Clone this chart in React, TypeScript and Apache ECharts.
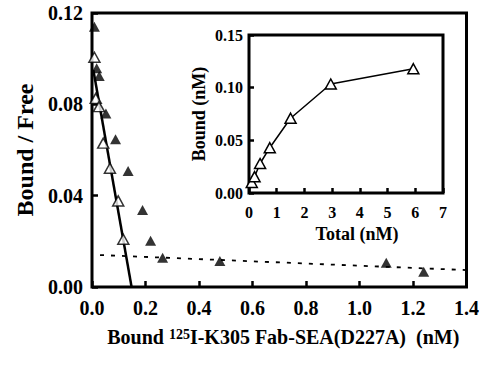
import React, { useEffect, useRef } from "react";
import * as echarts from "echarts";

// Main Scatchard plot: open triangles
const mainOpenX = [0.009, 0.014, 0.026, 0.042, 0.067, 0.098, 0.117];
const mainOpenY = [0.1006, 0.0826, 0.079, 0.063, 0.052, 0.0377, 0.0209];
// Main plot: filled triangles
const mainFilledX = [0.009, 0.0175, 0.027, 0.052, 0.088, 0.135, 0.189, 0.219, 0.264, 0.478, 1.1, 1.24];
const mainFilledY = [0.114, 0.0958, 0.0924, 0.076, 0.0647, 0.0508, 0.0337, 0.0203, 0.0128, 0.0114, 0.0106, 0.0067];
// Fitted lines
const solidFitX = [0.005, 0.148];
const solidFitY = [0.095, 0];
const dashedFitX = [0.03, 1.4];
const dashedFitY = [0.014, 0.0074];
// Inset saturation curve
const insetTotal = [0.1, 0.2, 0.4, 0.75, 1.5, 2.95, 5.93];
const insetBound = [0.01, 0.0155, 0.028, 0.043, 0.071, 0.1035, 0.118];

const FONT = "'Liberation Serif', 'Times New Roman', serif";

const zip = (xs: number[], ys: number[]) => xs.map((x, i) => [x, ys[i]]);

export default function App() {
  const ref = useRef<HTMLDivElement>(null);
  useEffect(() => {
    if (!ref.current) return;
    const chart = echarts.init(ref.current, null, { renderer: "svg" });
    const tick = (len: number) => ({
      show: true,
      inside: true,
      length: len,
      lineStyle: { color: "#000", width: 2.5 },
    });
    const openItem = { color: "#fff", borderColor: "#000", borderWidth: 1.5 };
    chart.setOption({
      animation: false,
      backgroundColor: "#fff",
      grid: [
        { left: 92, top: 13, right: 15, bottom: 81, show: true, borderColor: "#000", borderWidth: 3, backgroundColor: "transparent" },
        { left: 249, top: 35, right: 39, bottom: 175, show: true, borderColor: "#000", borderWidth: 3, backgroundColor: "#fff", z: 5 },
      ],
      xAxis: [
        {
          gridIndex: 0,
          type: "value",
          min: 0,
          max: 1.4,
          interval: 0.2,
          axisLine: { show: false },
          splitLine: { show: false },
          axisTick: tick(6),
          axisLabel: { color: "#000", fontFamily: FONT, fontWeight: "bold", fontSize: 20, margin: 11, formatter: (v: number) => v.toFixed(1) },
          name: "{t|Bound }{sup|125}{t|I-K305 Fab-SEA(D227A)  (nM)}",
          nameLocation: "middle",
          nameGap: 40,
          nameTextStyle: {
            color: "#000",
            fontFamily: FONT,
            fontWeight: "bold",
            fontSize: 20,
            padding: [0, 0, 0, 8],
            rich: {
              t: { color: "#000", fontFamily: FONT, fontWeight: "bold", fontSize: 20, lineHeight: 20, verticalAlign: "bottom" },
              sup: { color: "#000", fontFamily: FONT, fontWeight: "bold", fontSize: 14, lineHeight: 14, verticalAlign: "top" },
            },
          },
        },
        {
          gridIndex: 1,
          type: "value",
          min: 0,
          max: 7,
          interval: 1,
          axisLine: { show: false },
          splitLine: { show: false },
          axisTick: tick(5),
          axisLabel: { color: "#000", fontFamily: FONT, fontWeight: "bold", fontSize: 16, margin: 11 },
          name: "Total (nM)",
          nameLocation: "middle",
          nameGap: 32,
          nameTextStyle: { color: "#000", fontFamily: FONT, fontWeight: "bold", fontSize: 18, padding: [0, 0, 0, 22] },
          z: 6,
        },
      ],
      yAxis: [
        {
          gridIndex: 0,
          type: "value",
          min: 0,
          max: 0.12,
          interval: 0.04,
          axisLine: { show: false },
          splitLine: { show: false },
          axisTick: tick(6),
          axisLabel: { color: "#000", fontFamily: FONT, fontWeight: "bold", fontSize: 20, margin: 9, formatter: (v: number) => v.toFixed(2) },
          name: "Bound / Free",
          nameLocation: "middle",
          nameGap: 53,
          nameTextStyle: { color: "#000", fontFamily: FONT, fontWeight: "bold", fontSize: 24 },
        },
        {
          gridIndex: 1,
          type: "value",
          min: 0,
          max: 0.15,
          interval: 0.05,
          axisLine: { show: false },
          splitLine: { show: false },
          axisTick: tick(5),
          axisLabel: { color: "#000", fontFamily: FONT, fontWeight: "bold", fontSize: 16, margin: 6, formatter: (v: number) => v.toFixed(2) },
          name: "Bound (nM)",
          nameLocation: "middle",
          nameGap: 41,
          nameTextStyle: { color: "#000", fontFamily: FONT, fontWeight: "bold", fontSize: 18 },
          z: 6,
        },
      ],
      series: [
        {
          type: "line",
          xAxisIndex: 0,
          yAxisIndex: 0,
          data: zip(solidFitX, solidFitY),
          showSymbol: false,
          symbol: "none",
          lineStyle: { color: "#000", width: 2.5 },
          z: 2,
        },
        {
          type: "line",
          xAxisIndex: 0,
          yAxisIndex: 0,
          data: zip(dashedFitX, dashedFitY),
          showSymbol: false,
          symbol: "none",
          lineStyle: { color: "#000", width: 1.8, type: [4, 7] },
          z: 2,
        },
        {
          type: "scatter",
          xAxisIndex: 0,
          yAxisIndex: 0,
          data: zip(mainFilledX, mainFilledY),
          symbol: "triangle",
          symbolSize: [11, 10],
          itemStyle: { color: "#000" },
          clip: false,
          z: 3,
        },
        {
          type: "scatter",
          xAxisIndex: 0,
          yAxisIndex: 0,
          data: zip(mainOpenX, mainOpenY),
          symbol: "triangle",
          symbolSize: [11, 10],
          itemStyle: openItem,
          clip: false,
          z: 4,
        },
        {
          type: "line",
          xAxisIndex: 1,
          yAxisIndex: 1,
          data: zip(insetTotal, insetBound),
          symbol: "triangle",
          symbolSize: [11, 10],
          showSymbol: true,
          itemStyle: openItem,
          lineStyle: { color: "#000", width: 1.5 },
          clip: false,
          z: 7,
        },
      ],
    });
    return () => chart.dispose();
  }, []);
  return (
    <div
      ref={ref}
      style={{ position: "fixed", left: 0, top: 0, width: 482, height: 368, background: "#fff" }}
    />
  );
}
